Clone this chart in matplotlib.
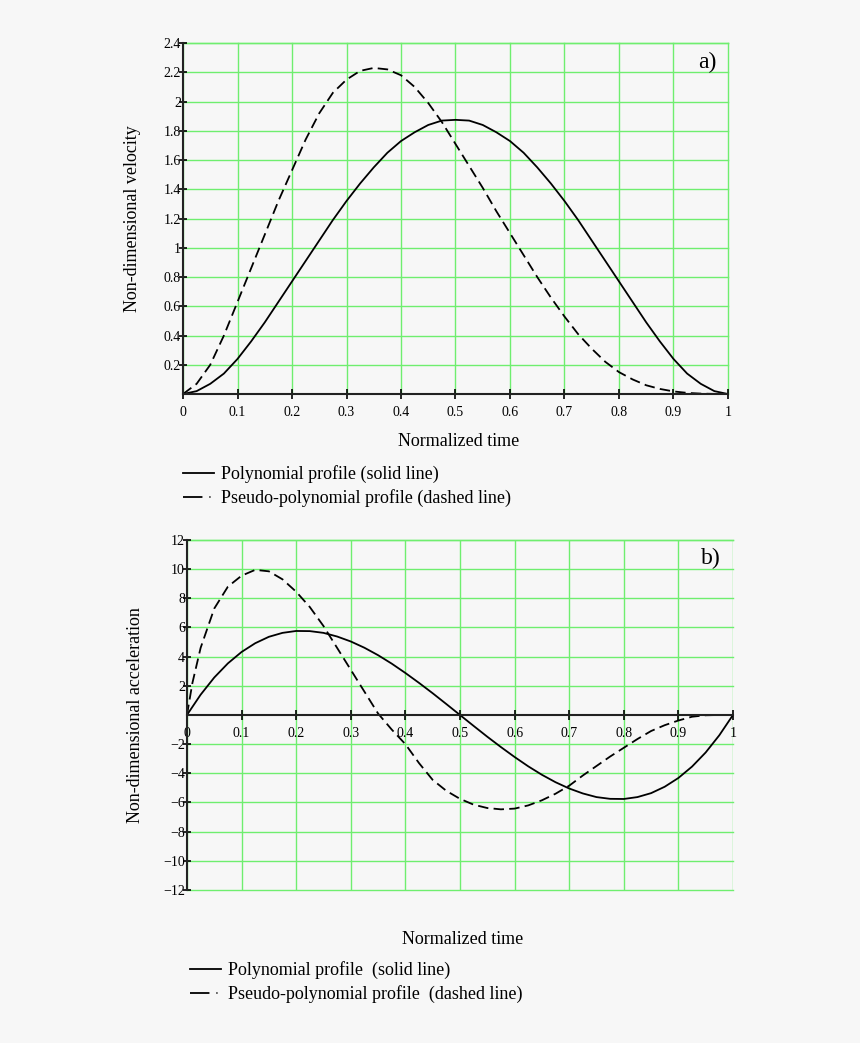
import matplotlib
matplotlib.use("Agg")
import matplotlib.pyplot as plt
from matplotlib.lines import Line2D

# normalized time samples
t = [0.0, 0.025, 0.05, 0.075, 0.1, 0.125, 0.15, 0.175, 0.2, 0.225, 0.25,
     0.275, 0.3, 0.325, 0.35, 0.375, 0.4, 0.425, 0.45, 0.475, 0.5,
     0.525, 0.55, 0.575, 0.6, 0.625, 0.65, 0.675, 0.7, 0.725, 0.75,
     0.775, 0.8, 0.825, 0.85, 0.875, 0.9, 0.925, 0.95, 0.975, 1.0]

# a) velocity
vel_poly = [0.0, 0.02, 0.07, 0.14, 0.24, 0.36, 0.49, 0.63, 0.77, 0.91, 1.05,
            1.19, 1.32, 1.44, 1.55, 1.65, 1.73, 1.79, 1.84, 1.87, 1.875,
            1.87, 1.84, 1.79, 1.73, 1.65, 1.55, 1.44, 1.32, 1.19, 1.05,
            0.91, 0.77, 0.63, 0.49, 0.36, 0.24, 0.14, 0.07, 0.02, 0.0]
vel_pseudo = [0.0, 0.07, 0.2, 0.4, 0.63, 0.86, 1.09, 1.32, 1.53, 1.74, 1.92,
              2.06, 2.15, 2.21, 2.23, 2.22, 2.18, 2.1, 1.99, 1.86, 1.71,
              1.56, 1.41, 1.25, 1.1, 0.95, 0.8, 0.66, 0.53, 0.41, 0.31,
              0.22, 0.15, 0.1, 0.06, 0.035, 0.018, 0.008, 0.003, 0.001, 0.0]

# b) acceleration
acc_poly = [0.0, 1.39, 2.57, 3.54, 4.32, 4.92, 5.36, 5.63, 5.76, 5.75, 5.63,
            5.38, 5.04, 4.61, 4.1, 3.52, 2.88, 2.2, 1.49, 0.75, 0.0,
            -0.75, -1.49, -2.2, -2.88, -3.52, -4.1, -4.61, -5.04, -5.38, -5.63,
            -5.75, -5.76, -5.63, -5.36, -4.92, -4.32, -3.54, -2.57, -1.39, 0.0]
t_b = [0.0, 0.01] + t[1:]
acc_pseudo = [0.0, 2.2, 4.6, 7.3, 8.8, 9.55, 9.95, 9.85, 9.3, 8.45, 7.4, 6.1,
              4.6, 3.1, 1.6, 0.1, -1.0, -2.0, -3.3, -4.45, -5.2, -5.75,
              -6.15, -6.38, -6.47, -6.42, -6.2, -5.85, -5.4, -4.85, -4.15, -3.5,
              -2.85, -2.25, -1.65, -1.1, -0.7, -0.38, -0.12, -0.02, 0.0, 0.0]

x_ticks = [0, 0.1, 0.2, 0.3, 0.4, 0.5, 0.6, 0.7, 0.8, 0.9, 1]
x_labels = ['0', '0.1', '0.2', '0.3', '0.4', '0.5', '0.6', '0.7', '0.8', '0.9', '1']
ya_ticks = [0.2, 0.4, 0.6, 0.8, 1.0, 1.2, 1.4, 1.6, 1.8, 2.0, 2.2, 2.4]
ya_labels = ['0.2', '0.4', '0.6', '0.8', '1', '1.2', '1.4', '1.6', '1.8', '2', '2.2', '2.4']
yb_ticks = [-12, -10, -8, -6, -4, -2, 2, 4, 6, 8, 10, 12]
yb_labels = ['\u221212', '\u221210', '\u22128', '\u22126', '\u22124', '\u22122',
             '2', '4', '6', '8', '10', '12']

plt.rcParams['font.family'] = ['Liberation Serif', 'DejaVu Serif']
plt.rcParams['lines.scale_dashes'] = False

bg = '#f7f7f7'
grid_col = '#6fee6f'
dash = (0, (7.5, 3.8))

fig = plt.figure(figsize=(8.6, 10.43), dpi=100, facecolor=bg)
ax_a = fig.add_axes([0.2128, 0.6222, 0.6337, 0.3365])
ax_b = fig.add_axes([0.2174, 0.1467, 0.6349, 0.3356])


def style_axes(ax, yticks, ylabels, ylim):
    ax.set_facecolor(bg)
    ax.set_xlim(0, 1)
    ax.set_ylim(*ylim)
    ax.set_xticks(x_ticks)
    ax.set_xticklabels(x_labels)
    ax.set_yticks(yticks)
    ax.set_yticklabels(ylabels)
    ax.grid(True, color=grid_col, linewidth=1.0)
    # let the grid lines on the limits show fully (green frame)
    for g in ax.get_xgridlines() + ax.get_ygridlines():
        g.set_clip_on(False)
    ax.axhline(ylim[1], color=grid_col, lw=1.0, clip_on=False, zorder=0.5)
    ax.set_axisbelow(True)
    for s in ['top', 'right']:
        ax.spines[s].set_visible(False)
    for s in ['left', 'bottom']:
        ax.spines[s].set_linewidth(1.5)
        ax.spines[s].set_color('#222222')
    ax.tick_params(axis='y', direction='inout', length=6, width=1.2, pad=-1.5,
                   labelsize=10)
    ax.tick_params(axis='x', direction='inout', length=7, width=1.2, pad=5,
                   labelsize=10)


# panel a
style_axes(ax_a, ya_ticks, ya_labels, (0, 2.4))
ax_a.plot(t, vel_poly, color='black', lw=1.3)
ax_a.plot(t, vel_pseudo, color='black', lw=1.3, linestyle=dash)
ax_a.set_ylabel('Non-dimensional velocity', fontsize=13, labelpad=16)
ax_a.text(0.978, 0.976, 'a)', transform=ax_a.transAxes, fontsize=17,
          ha='right', va='top')
fig.text(459 / 860, 1 - 442 / 1043, 'Normalized time', fontsize=13,
         ha='center', va='center')

# panel b
style_axes(ax_b, yb_ticks, yb_labels, (-12, 12))
ax_b.spines['bottom'].set_position(('data', 0))
ax_b.plot(t, acc_poly, color='black', lw=1.3)
ax_b.plot(t_b, acc_pseudo, color='black', lw=1.3, linestyle=dash)
ax_b.set_ylabel('Non-dimensional acceleration', fontsize=13, labelpad=14)
ax_b.text(0.978, 0.978, 'b)', transform=ax_b.transAxes, fontsize=17,
          ha='right', va='top')
fig.text(463 / 860, 1 - 939 / 1043, 'Normalized time', fontsize=13,
         ha='center', va='center')

# legends
solid_h = Line2D([], [], color='black', lw=1.3)
dash_h = Line2D([], [], color='black', lw=1.3, linestyle=(0, (14, 5, 0.8, 12)))

fig.legend([solid_h, dash_h],
           ['Polynomial profile (solid line)', 'Pseudo-polynomial profile (dashed line)'],
           loc='upper left', bbox_to_anchor=(183 / 860, 1 - 465 / 1043),
           frameon=False, fontsize=13, handlelength=1.7, handletextpad=0.4,
           labelspacing=0.35, borderpad=0, borderaxespad=0)
fig.legend([solid_h, dash_h],
           ['Polynomial profile  (solid line)', 'Pseudo-polynomial profile  (dashed line)'],
           loc='upper left', bbox_to_anchor=(190 / 860, 1 - 961 / 1043),
           frameon=False, fontsize=13, handlelength=1.7, handletextpad=0.4,
           labelspacing=0.35, borderpad=0, borderaxespad=0)

fig.savefig('out.png', dpi=100, facecolor=bg)
